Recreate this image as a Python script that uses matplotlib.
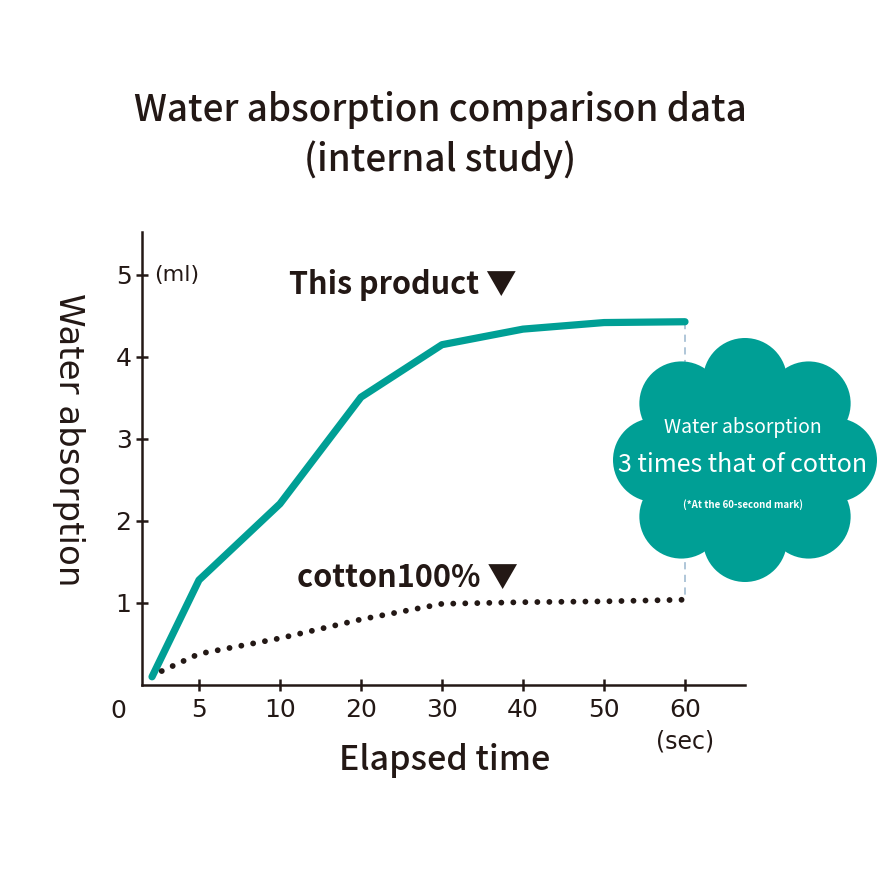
import numpy as np
import matplotlib
matplotlib.use('Agg')
import matplotlib.pyplot as plt
from matplotlib.patches import Circle, Ellipse

# data
tick_times = [0, 5, 10, 20, 30, 40, 50, 60]
tick_labels = ['0', '5', '10', '20', '30', '40', '50', '60']
product_t = [2.1, 5, 10, 20, 30, 40, 50, 60]
product_v = [0.10, 1.28, 2.21, 3.51, 4.15, 4.34, 4.42, 4.43]
cotton_t = [2.7, 5, 10, 20, 30, 40, 50, 60]
cotton_v = [0.17, 0.38, 0.57, 0.80, 0.99, 1.01, 1.02, 1.04]
y_ticks = [1, 2, 3, 4, 5]

TEAL = '#009f95'
INK = '#231815'
JP = ['Noto Sans CJK JP', 'DejaVu Sans']


def tpos(t):
    # x axis is evenly spaced by tick, not linear in time
    return np.interp(t, tick_times, np.arange(len(tick_times)))


W, H = 890, 889
fig = plt.figure(figsize=(W / 100, H / 100), dpi=100)
fig.patch.set_facecolor('white')

# axes box in pixels: left 142, right 745, top 232, bottom 685
ax = fig.add_axes([142 / W, 1 - 685 / H, (745 - 142) / W, (685 - 232) / H])
ax.set_xlim((142 - 118) / 81, (745 - 118) / 81)
ax.set_ylim(0, (685 - 232) / 82)

for s in ['top', 'right']:
    ax.spines[s].set_visible(False)
for s in ['left', 'bottom']:
    ax.spines[s].set_color(INK)
    ax.spines[s].set_linewidth(1.8)

ax.set_xticks(tpos(tick_times[1:]))
ax.set_xticklabels(tick_labels[1:])
ax.set_yticks(y_ticks)
ax.set_yticklabels([str(v) for v in y_ticks])
ax.tick_params(direction='inout', length=9, width=1.8, color=INK,
               labelcolor=INK, labelsize=18, pad=3)
ax.tick_params(axis='x', pad=5)
ax.text(tpos(0), -0.32, tick_labels[0], ha='center', va='center',
        fontsize=18, color=INK, clip_on=False)

# dashed guide at 60 s
ax.plot([tpos(60), tpos(60)], [product_v[-1], cotton_v[-1]], color='#a9c2d6',
        lw=1.3, ls=(0, (4, 3)), zorder=1)

ax.plot(tpos(product_t), product_v, color=TEAL, lw=5.2,
        solid_capstyle='round', solid_joinstyle='round', zorder=3)
ax.plot(tpos(cotton_t), cotton_v, color=INK, lw=4.2,
        ls=(0, (0.01, 2.05)), dash_capstyle='round', zorder=3)

ax.text(0.45, 5.0, '(ml)', ha='left', va='center', fontsize=16, color=INK)
ax.text(2.11, 4.88, 'This product ▼', ha='left', va='center', fontsize=22,
        fontweight='bold', color=INK, family=JP)
ax.text(2.21, 1.30, 'cotton100% ▼', ha='left', va='center', fontsize=22,
        fontweight='bold', color=INK, family=JP)
ax.text(tpos(60), -0.69, '(sec)', ha='center', va='center', fontsize=17,
        color=INK)

# labels and title
fig.text(445 / W, 1 - 760 / H, 'Elapsed time', ha='center', va='center',
         fontsize=24.5, fontweight='medium', color=INK, family=JP)
fig.text(68 / W, 1 - 440 / H, 'Water absorption', ha='center', va='center',
         rotation=-90, fontsize=24.5, color=INK)
fig.text(440 / W, 1 - 110 / H, 'Water absorption comparison data',
         ha='center', va='center', fontsize=26.5, fontweight='medium',
         color=INK, family=JP)
fig.text(440 / W, 1 - 160 / H, '(internal study)',
         ha='center', va='center', fontsize=26.5, fontweight='medium',
         color=INK, family=JP)

# cloud badge, overlay in pixel coords
ov = fig.add_axes([0, 0, 1, 1])
ov.set_xlim(0, W)
ov.set_ylim(H, 0)
ov.axis('off')
ov.patch.set_alpha(0)
cx, cy, a, b, r = 745, 460, 90, 80, 42
for k in range(8):
    ang = np.deg2rad(90 + 45 * k)
    ov.add_patch(Circle((cx + a * np.cos(ang), cy - b * np.sin(ang)), r,
                        color=TEAL, lw=0))
ov.add_patch(Ellipse((cx, cy), 2 * a, 2 * b, color=TEAL, lw=0))
ov.text(743, 428, 'Water absorption', ha='center', va='center',
        fontsize=14, color='white', family=JP)
ov.text(743, 465, '3 times that of cotton', ha='center', va='center',
        fontsize=18, color='white', family=JP)
ov.text(743, 505, '(*At the 60-second mark)', ha='center', va='center',
        fontsize=7, fontweight='bold', color='white', family=JP)

fig.savefig('out.png', dpi=100, facecolor='white')
